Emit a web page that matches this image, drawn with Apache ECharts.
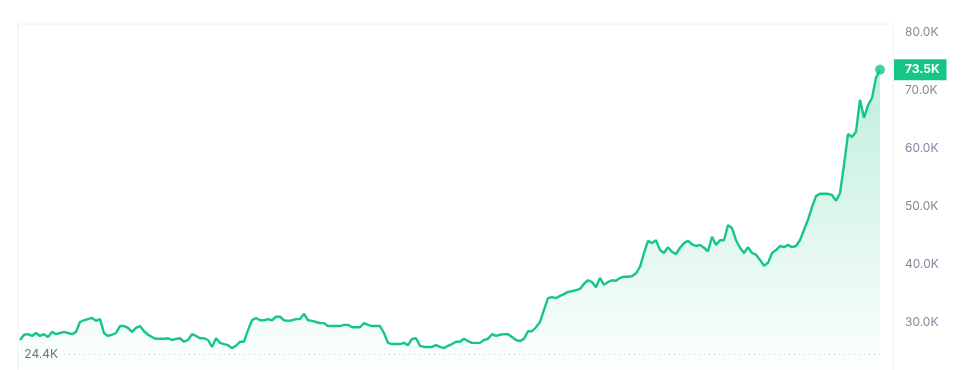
<!DOCTYPE html>
<html>
<head>
<meta charset="utf-8">
<script src="https://cdn.jsdelivr.net/npm/echarts@6/dist/echarts.min.js"></script>
<style>
  html, body { margin: 0; padding: 0; background: #fff; }
  #chart { width: 961px; height: 370px; }
</style>
</head>
<body>
<div id="chart"></div>
<script>
// 价格 (单位: K)，从左到右读图
var prices = [
  26.9, 27.8, 27.9, 27.6, 28.1, 27.6, 27.9, 27.4, 28.3, 27.9,
  28.1, 28.3, 28.1, 27.9, 28.3, 30.0, 30.3, 30.5, 30.7, 30.2,
  30.5, 28.1, 27.6, 27.8, 28.1, 29.3, 29.3, 29.0, 28.3, 29.0,
  29.3, 28.4, 27.8, 27.4, 27.1, 27.1, 27.1, 27.2, 26.9, 27.1,
  27.2, 26.6, 26.9, 27.9, 27.6, 27.2, 27.2, 26.9, 25.7, 27.2,
  26.4, 26.2, 26.0, 25.5, 25.9, 26.6, 26.6, 28.6, 30.3, 30.7,
  30.3, 30.3, 30.5, 30.3, 30.9, 30.9, 30.3, 30.2, 30.3, 30.5,
  30.5, 31.4, 30.3, 30.2, 30.0, 29.8, 29.8, 29.3, 29.3, 29.3,
  29.3, 29.5, 29.5, 29.1, 29.1, 29.1, 29.8, 29.5, 29.3, 29.3,
  29.3, 28.1, 26.4, 26.2, 26.2, 26.2, 26.4, 26.0, 27.1, 27.2,
  25.9, 25.7, 25.7, 25.7, 26.0, 25.7, 25.5, 25.9, 26.2, 26.6,
  26.6, 27.1, 26.7, 26.4, 26.4, 26.4, 26.9, 27.1, 27.9, 27.6,
  27.8, 27.9, 27.9, 27.4, 26.9, 26.7, 27.1, 28.4, 28.4, 29.1,
  30.0, 32.1, 34.1, 34.3, 34.1, 34.5, 34.8, 35.2, 35.3, 35.5,
  35.7, 36.6, 37.2, 36.9, 36.0, 37.6, 36.4, 36.9, 37.2, 37.1,
  37.6, 37.8, 37.8, 37.9, 38.4, 39.5, 41.9, 44.0, 43.6, 44.1,
  42.4, 41.9, 42.9, 42.1, 41.7, 42.8, 43.6, 44.0, 43.4, 43.1,
  43.3, 42.8, 42.2, 44.7, 43.3, 44.1, 44.1, 46.7, 46.2, 44.1,
  42.8, 41.9, 42.9, 41.9, 41.6, 40.7, 39.7, 40.2, 41.9, 42.4,
  43.1, 42.9, 43.3, 42.9, 43.1, 44.1, 45.9, 47.6, 49.8, 51.7,
  52.1, 52.1, 52.1, 51.9, 50.9, 52.2, 57.1, 62.4, 61.9, 62.8,
  68.3, 65.2, 67.4, 68.6, 72.1, 73.5
];
var days = prices.map(function (v, i) { return String(i); });
var yTicks = [20, 30, 40, 50, 60, 70, 80];
var minValue = 24.4;
var minLabelFrom = 11; // 虚线从第几个点开始

var green = '#16c784';
var chart = echarts.init(document.getElementById('chart'));
var last = prices.length - 1;

var option = {
  animation: false,
  textStyle: { fontFamily: 'Inter, "Noto Sans", sans-serif' },
  // 20K 落在画布下方之外
  grid: { left: 20, right: 81, top: 32, height: 348, outerBoundsMode: 'none' },
  graphic: [{
    type: 'rect',
    silent: true,
    z: -1,
    shape: { x: 18, y: 24, width: 875, height: 360 },
    style: { fill: 'none', stroke: '#eef0f3', lineWidth: 1 }
  }],
  xAxis: {
    type: 'category',
    data: days,
    boundaryGap: false,
    show: false
  },
  yAxis: {
    type: 'value',
    position: 'right',
    min: yTicks[0],
    max: yTicks[yTicks.length - 1],
    interval: 10,
    splitLine: { show: false },
    axisLine: { show: false },
    axisTick: { show: false },
    axisLabel: {
      margin: 25,
      color: '#808a9d',
      fontSize: 12,
      formatter: function (v) { return v.toFixed(1) + 'K'; }
    }
  },
  series: [
    {
      type: 'line',
      data: prices,
      showSymbol: false,
      lineStyle: { color: green, width: 2.4 },
      itemStyle: { color: green },
      areaStyle: {
        color: new echarts.graphic.LinearGradient(0, 0, 0, 1, [
          { offset: 0, color: 'rgba(22,199,132,0.4)' },
          { offset: 1, color: 'rgba(22,199,132,0)' }
        ])
      },
      endLabel: {
        show: true,
        distance: 14,
        formatter: function (p) { return p.value.toFixed(1) + 'K'; },
        color: '#fff',
        fontWeight: 'bold',
        fontSize: 12,
        lineHeight: 14,
        backgroundColor: green,
        padding: [4, 7, 3, 11]
      },
      markLine: {
        silent: true,
        symbol: ['none', 'none'],
        lineStyle: { color: '#c3c8d0', type: [1, 4], width: 1 },
        label: {
          position: 'start',
          distance: 6,
          color: '#6b7585',
          fontSize: 12,
          formatter: minValue.toFixed(1) + 'K'
        },
        data: [[
          { coord: [days[minLabelFrom], minValue] },
          { coord: [days[last], minValue] }
        ]]
      }
    },
    {
      type: 'scatter',
      data: [[days[last], prices[last]]],
      symbolSize: 10,
      itemStyle: { color: green },
      silent: true
    }
  ]
};

chart.setOption(option);
</script>
</body>
</html>
